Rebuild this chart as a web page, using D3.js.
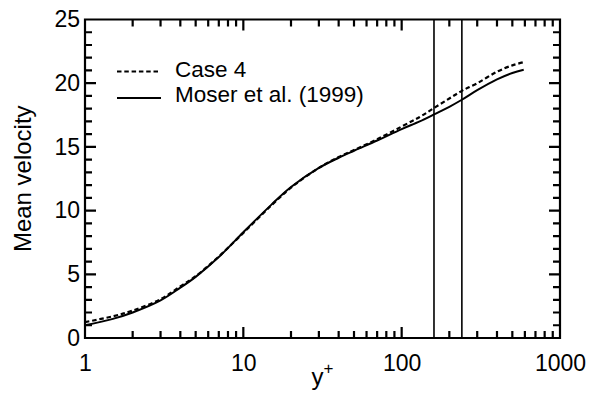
<!DOCTYPE html>
<html>
<head>
<meta charset="utf-8">
<script src="https://cdn.jsdelivr.net/npm/d3@7"></script>
<style>
  html, body { margin: 0; padding: 0; background: #fff; }
  svg { display: block; }
  text { font-family: "Liberation Sans", Arial, Helvetica, sans-serif; fill: #000; }
</style>
</head>
<body>
<svg id="chart" width="590" height="402"></svg>
<script>
// ---- data ----
const yPlus = [1, 1.5, 2, 3, 4, 5, 7, 10, 15, 20, 30, 40, 50, 70, 100, 130, 160, 200, 240, 300, 400, 500, 590];
const moser = [1.0, 1.5, 2.0, 2.95, 3.95, 4.8, 6.35, 8.3, 10.45, 11.85, 13.35, 14.15, 14.7, 15.5, 16.4, 17.0, 17.55, 18.15, 18.7, 19.45, 20.3, 20.8, 21.05];
const case4 = [1.25, 1.7, 2.15, 3.05, 4.05, 4.85, 6.4, 8.25, 10.4, 11.8, 13.35, 14.2, 14.75, 15.6, 16.6, 17.35, 18.05, 18.8, 19.4, 20.0, 20.9, 21.4, 21.65];
const verticalLines = [160, 240];
const xMajorTicks = [1, 10, 100, 1000];
const xTickLabels = ["1", "10", "100", "1000"];
const yMajorTicks = [0, 5, 10, 15, 20, 25];
const yMinorTicks = [1, 2, 3, 4, 6, 7, 8, 9, 11, 12, 13, 14, 16, 17, 18, 19, 21, 22, 23, 24];
const seriesNames = ["Case 4", "Moser et al. (1999)"];

// ---- layout ----
const L = 85, R = 560, T = 19.5, B = 338;
const svg = d3.select("#chart");
const x = d3.scaleLog().domain([1, 1000]).range([L, R]);
const y = d3.scaleLinear().domain([0, 25]).range([B, T]);

const xMinorTicks = [];
[1, 10, 100].forEach(d => { for (let k = 2; k <= 9; k++) xMinorTicks.push(d * k); });

const fontTick = 23;
const MAJ = 11, MIN = 7;

// tick labels via d3 axes
function styleAxis(g) {
  g.select(".domain").remove();
  g.selectAll(".tick line").remove();
  g.selectAll("text").style("font-size", fontTick + "px")
    .attr("font-family", "Liberation Sans, Arial, sans-serif").attr("fill", "#000");
}
svg.append("g").attr("transform", `translate(0,${B})`)
  .call(d3.axisBottom(x).tickValues(xMajorTicks).tickSize(0).tickPadding(16.5)
    .tickFormat((d, i) => xTickLabels[i]))
  .call(styleAxis);
svg.append("g").attr("transform", `translate(${L},0)`)
  .call(d3.axisLeft(y).tickValues(yMajorTicks).tickSize(0).tickPadding(5).tickFormat(d3.format("d")))
  .call(styleAxis);

// frame + inward tick marks in one path
const xAll = xMajorTicks.map(v => [v, MAJ]).concat(xMinorTicks.map(v => [v, MIN]));
const yAll = yMajorTicks.map(v => [v, MAJ]).concat(yMinorTicks.map(v => [v, MIN]));
let d = `M${L},${T}H${R}V${B}H${L}Z`;
xAll.forEach(([v, l]) => { d += `M${x(v)},${B}v${-l}M${x(v)},${T}v${l}`; });
yAll.forEach(([v, l]) => { d += `M${L},${y(v)}h${l}M${R},${y(v)}h${-l}`; });
svg.append("path").attr("d", d).attr("fill", "none").attr("stroke", "#000").attr("stroke-width", 2.2);

// vertical lines
svg.selectAll(".vline").data(verticalLines).enter().append("line")
  .attr("x1", v => x(v)).attr("x2", v => x(v)).attr("y1", T).attr("y2", B)
  .attr("stroke", "#000").attr("stroke-width", 1.6);

// curves
const line = d3.line().curve(d3.curveCatmullRom.alpha(0.5));
svg.append("path")
  .attr("d", line(yPlus.map((v, i) => [x(v), y(moser[i])])))
  .attr("fill", "none").attr("stroke", "#000").attr("stroke-width", 2);
svg.append("path")
  .attr("d", line(yPlus.map((v, i) => [x(v), y(case4[i])])))
  .attr("fill", "none").attr("stroke", "#000").attr("stroke-width", 2.2)
  .attr("stroke-dasharray", "4.5,2.8");

// legend
const legend = svg.append("g");
legend.append("line").attr("x1", 117).attr("x2", 159).attr("y1", 71.5).attr("y2", 71.5)
  .attr("stroke", "#000").attr("stroke-width", 2).attr("stroke-dasharray", "4.5,2.8");
legend.append("line").attr("x1", 117).attr("x2", 161).attr("y1", 98).attr("y2", 98)
  .attr("stroke", "#000").attr("stroke-width", 2);
legend.append("text").attr("x", 175).attr("y", 76.5).style("font-size", "22.5px").text(seriesNames[0]);
legend.append("text").attr("x", 175).attr("y", 101.5).style("font-size", "22.5px").text(seriesNames[1]);

// axis titles
svg.append("text").attr("transform", `translate(31,${(T + B) / 2}) rotate(-90)`)
  .attr("text-anchor", "middle").style("font-size", "24px").text("Mean velocity");
const xt = svg.append("text").attr("x", (L + R) / 2).attr("y", 385)
  .attr("text-anchor", "middle").style("font-size", "24px");
xt.append("tspan").text("y");
xt.append("tspan").attr("dy", -11).style("font-size", "17px").text("+");
</script>
</body>
</html>
